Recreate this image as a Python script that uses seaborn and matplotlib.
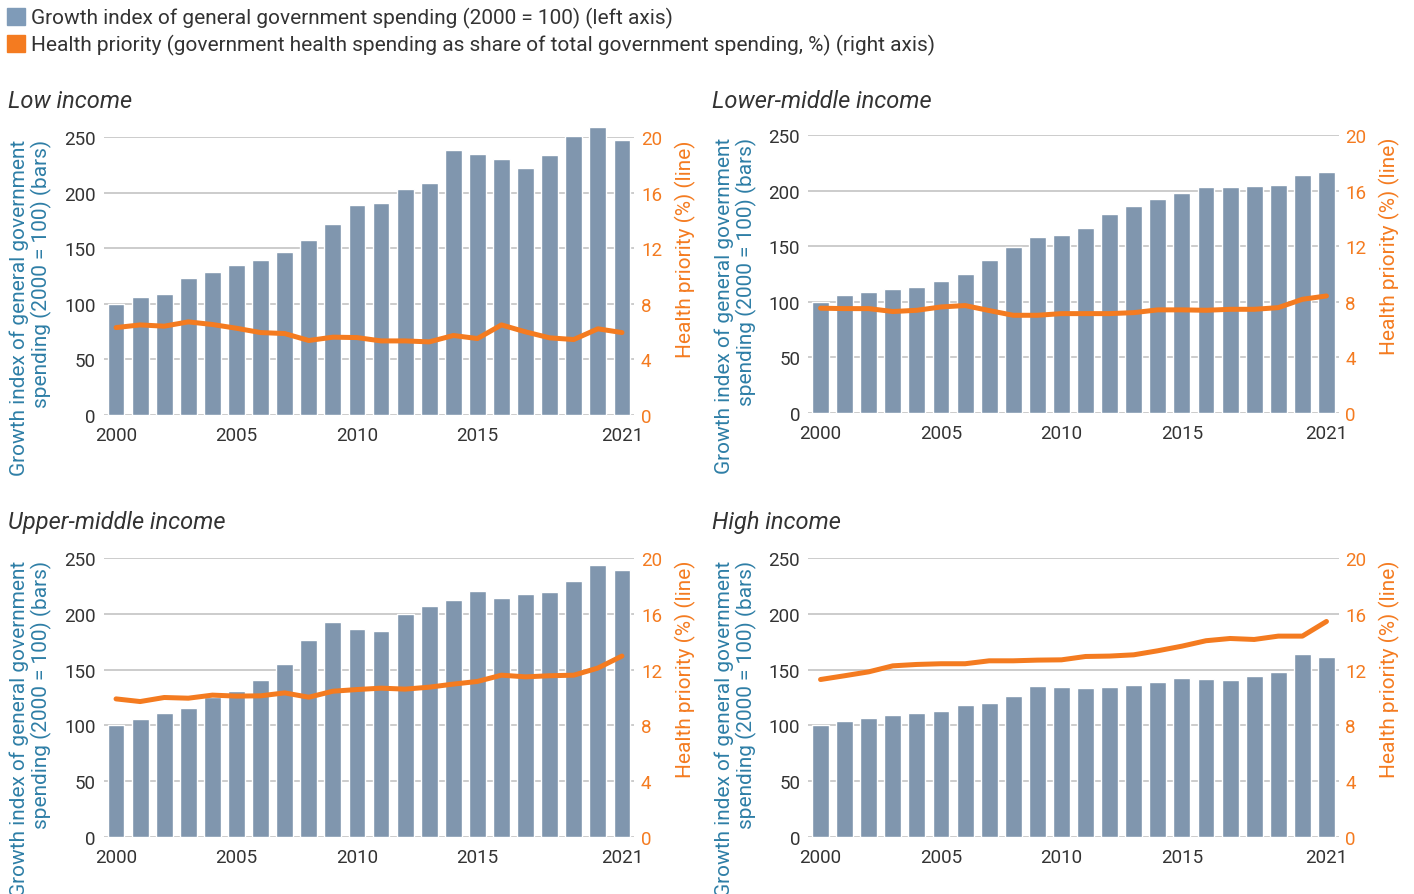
import numpy as np
import pandas as pd
import matplotlib
matplotlib.use("Agg")
import matplotlib.pyplot as plt
import matplotlib.patches as mpatches
import seaborn as sns

years = list(range(2000, 2022))

low_growth = [100, 106, 108.6, 123, 129, 134.6, 139, 147, 157, 172, 189, 191,
              203, 209, 238, 235, 230.6, 222.5, 234, 251, 259, 247.6]
low_health = [6.29, 6.48, 6.39, 6.70, 6.51, 6.24, 5.93, 5.86, 5.36, 5.60, 5.57, 5.33,
              5.33, 5.26, 5.72, 5.50, 6.48, 5.98, 5.55, 5.43, 6.20, 5.93]

lmid_growth = [100, 105.9, 108.6, 111.2, 113, 118.4, 124.7, 137.3, 148.9, 157.9, 159.7, 166,
               179.4, 186.6, 192, 197.4, 202.8, 203.6, 204.5, 205.4, 214.4, 217.1]
lmid_health = [7.54, 7.51, 7.51, 7.30, 7.39, 7.63, 7.73, 7.37, 7.03, 7.03, 7.15, 7.15,
               7.15, 7.22, 7.42, 7.42, 7.39, 7.46, 7.46, 7.58, 8.18, 8.42]

umid_growth = [100.2, 105.6, 110.9, 115.4, 125.6, 130.7, 140.5, 154.9, 176.4, 192.6, 186.3, 184.5,
               199.8, 206.9, 212.3, 220.4, 214.1, 217.7, 219.5, 229.4, 243.7, 239.2]
umid_health = [9.90, 9.71, 10.0, 9.95, 10.17, 10.10, 10.12, 10.33, 10.02, 10.45, 10.57, 10.67,
               10.60, 10.74, 10.96, 11.15, 11.60, 11.48, 11.56, 11.60, 12.11, 12.97]

high_growth = [100.2, 103.8, 106.5, 109.2, 110.9, 112.7, 118.1, 119.9, 126.2, 135.2, 134.3, 133.4,
               134.3, 136.1, 138.8, 142.3, 141.4, 140.5, 144.1, 147.7, 163.9, 161.2]
high_health = [11.29, 11.56, 11.84, 12.27, 12.37, 12.42, 12.42, 12.63, 12.63, 12.68, 12.70, 12.94,
               12.97, 13.06, 13.35, 13.68, 14.07, 14.23, 14.16, 14.40, 14.40, 15.45]

panel_titles = ["Low income", "Lower-middle income", "Upper-middle income", "High income"]
panel_growth = [low_growth, lmid_growth, umid_growth, high_growth]
panel_health = [low_health, lmid_health, umid_health, high_health]

xtick_years = [2000, 2005, 2010, 2015, 2021]
left_ticks = [0, 50, 100, 150, 200, 250]
right_ticks = [0, 4, 8, 12, 16, 20]

legend_labels = ["Growth index of general government spending (2000 = 100) (left axis)",
                 "Health priority (government health spending as share of total government spending, %) (right axis)"]
left_label = "Growth index of general government\nspending (2000 = 100) (bars)"
right_label = "Health priority (%) (line)"

BAR = "#8096ae"
LEG_BAR = "#7f9bb8"
ORANGE = "#f47b20"
TEXT = "#333333"
BLUE = "#2e7ea6"
GRID = "#cccccc"

sns.set_theme(style="white")
plt.rcParams["font.family"] = ["Roboto", "DejaVu Sans"]
plt.rcParams["text.color"] = TEXT

W, H = 1414, 895
fig = plt.figure(figsize=(W / 100, H / 100), dpi=100)

def fx(px):
    return px / W

def fy(py):
    return 1 - py / H

# (left, top, bottom) in pixels
boxes = [(104, 138, 416), (808.5, 136, 414), (104, 559, 838), (808.5, 559, 838)]
plot_w = 530
title_pos = [(8, 102), (712, 102), (8, 523), (712, 523)]

for i in range(4):
    l, t, b = boxes[i]
    ax = fig.add_axes([fx(l), fy(b), fx(plot_w), (b - t) / H])
    df = pd.DataFrame({"year": years, "growth": panel_growth[i], "health": panel_health[i]})
    df["pos"] = df["year"] - years[0]

    ax.set_axisbelow(True)
    ax.yaxis.grid(True, color=GRID, lw=1.4)
    sns.barplot(data=df, x="year", y="growth", color=BAR, saturation=1, width=0.7, ax=ax)
    for p in ax.patches:
        p.set_clip_on(False)
    ax.set_ylim(0, 250)
    ax.set_xlim(-0.5, len(years) - 0.5)
    ax.set_yticks(left_ticks)
    ax.set_xticks([y - years[0] for y in xtick_years])
    ax.set_xticklabels([str(y) for y in xtick_years])
    ax.set_xlabel("")
    ax.set_ylabel("")
    for s in ax.spines.values():
        s.set_visible(False)
    ax.tick_params(axis="y", length=0, pad=6, labelsize=13.5, labelcolor=TEXT)
    ax.tick_params(axis="x", length=0, pad=8, labelsize=13.5, labelcolor=TEXT)

    ax2 = ax.twinx()
    sns.lineplot(data=df, x="pos", y="health", color=ORANGE, lw=3.6, ax=ax2,
                 solid_capstyle="round", solid_joinstyle="round")
    ax2.set_ylim(0, 20)
    ax2.set_yticks(right_ticks)
    ax2.set_xlim(-0.5, len(years) - 0.5)
    ax2.set_ylabel("")
    ax2.set_xlabel("")
    ax2.grid(False)
    for s in ax2.spines.values():
        s.set_visible(False)
    ax2.tick_params(axis="y", length=0, pad=5, labelsize=13.5, labelcolor=ORANGE)

    fig.text(fx(l - 73), fy(t + 2), left_label, rotation=90, va="top", ha="center",
             multialignment="right", fontsize=15, color=BLUE, linespacing=1.1)
    fig.text(fx(l + plot_w + 51), fy(t + 2), right_label, rotation=90, va="top", ha="center",
             fontsize=15, color=ORANGE)
    tx, ty = title_pos[i]
    fig.text(fx(tx), fy(ty), panel_titles[i], ha="left", va="center", fontsize=17,
             style="italic", color=TEXT)

handles = [mpatches.Patch(color=LEG_BAR, label=legend_labels[0]),
           mpatches.Patch(color=ORANGE, label=legend_labels[1])]
fig.legend(handles=handles, loc="upper left", bbox_to_anchor=(fx(7), fy(8)),
           frameon=False, fontsize=15, handlelength=0.87, handleheight=0.87,
           handletextpad=0.3, labelspacing=0.3, borderpad=0, borderaxespad=0)

fig.savefig("out.png", dpi=100)
